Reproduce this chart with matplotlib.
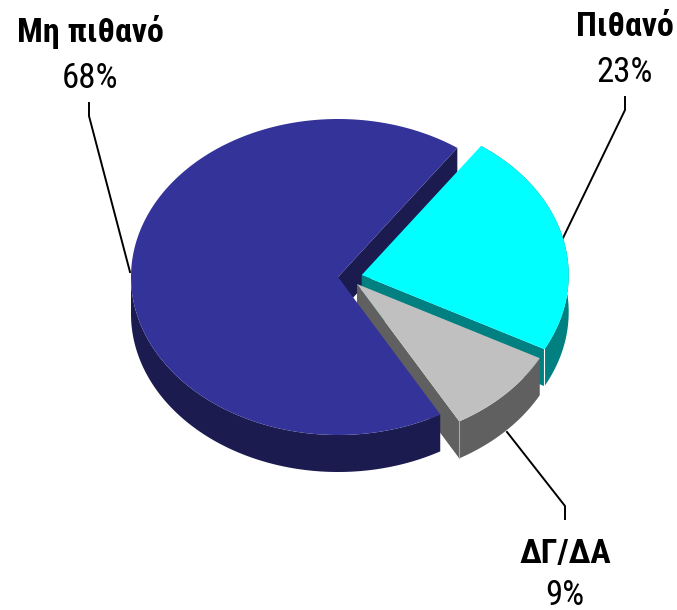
import matplotlib.pyplot as plt
import numpy as np

labels = ['Πιθανό', 'ΔΓ/ΔΑ', 'Μη πιθανό']
values = [23, 9, 68]

top_colors = ['#00FFFF', '#C0C0C0', '#333399']
side_colors = ['#008080', '#606060', '#1B1B50']

# pixel geometry of the fake 3d pie
apex = [(361.7, 275), (357, 284), (338, 277)]
rx = 207
ry = 158
depth = 37
start = 35.2

plt.rcParams['font.family'] = ['Roboto Condensed', 'Liberation Sans', 'DejaVu Sans']

fig = plt.figure(figsize=(6.77, 6.10), dpi=100)
ax = fig.add_axes([0, 0, 1, 1])
ax.set_xlim(0, 677)
ax.set_ylim(610, 0)
ax.axis('off')


def rim(c, a, b):
    t = np.radians(np.linspace(a, b, 200))
    return c[0] + rx * np.sin(t), c[1] - ry * np.cos(t)


def fill(x, y, color, z):
    ax.fill(x, y, color=color, lw=0, zorder=z)


# angles of each slice
spans = np.array(values) / sum(values) * 360
a0 = start + np.concatenate([[0], np.cumsum(spans)[:-1]])
a1 = a0 + spans

for i in range(3):
    c = apex[i]
    x, y = rim(c, a0[i], a1[i])
    z = i * 10 + 10

    # cut face at the end of the slice
    fx = [c[0], x[-1], x[-1], c[0]]
    fy = [c[1], y[-1], y[-1] + depth, c[1] + depth]

    if i == 2:
        # goes behind the cyan slice
        fill(fx, fy, side_colors[i], 5)
        # outer wall, only the front part of the rim shows
        sx, sy = rim(c, a0[i], 270)
        fill(np.r_[sx, sx[::-1]], np.r_[sy, sy[::-1] + depth], side_colors[i], z)
    else:
        fill(fx, fy, side_colors[i], z)
        fill(np.r_[x, x[::-1]], np.r_[y, y[::-1] + depth], side_colors[i], z)
        # thin light edge at the corner
        ax.plot([x[-1], x[-1]], [y[-1], y[-1] + depth], color='white' if i == 0 else '#A8A8A8',
                lw=0.8, zorder=z + 1)

    fill(np.r_[c[0], x], np.r_[c[1], y], top_colors[i], z + 2)

# leader lines
ax.plot([89, 89, 130], [103, 116, 272], color='black', lw=1.4, zorder=1)
ax.plot([625, 625, 563], [97, 110, 238], color='black', lw=1.4, zorder=1)
ax.plot([507, 565, 565], [432, 506, 519], color='black', lw=1.4, zorder=1)

# labels
label_pos = [(625, 36, 82), (565, 563, 605), (90, 42, 88)]
for i in range(3):
    lx, y1, y2 = label_pos[i]
    ax.text(lx, y1, labels[i], ha='center', va='baseline', fontsize=24.5, fontweight='bold')
    ax.text(lx, y2, str(values[i]) + '%', ha='center', va='baseline', fontsize=25)

plt.savefig('out.png', dpi=100)
